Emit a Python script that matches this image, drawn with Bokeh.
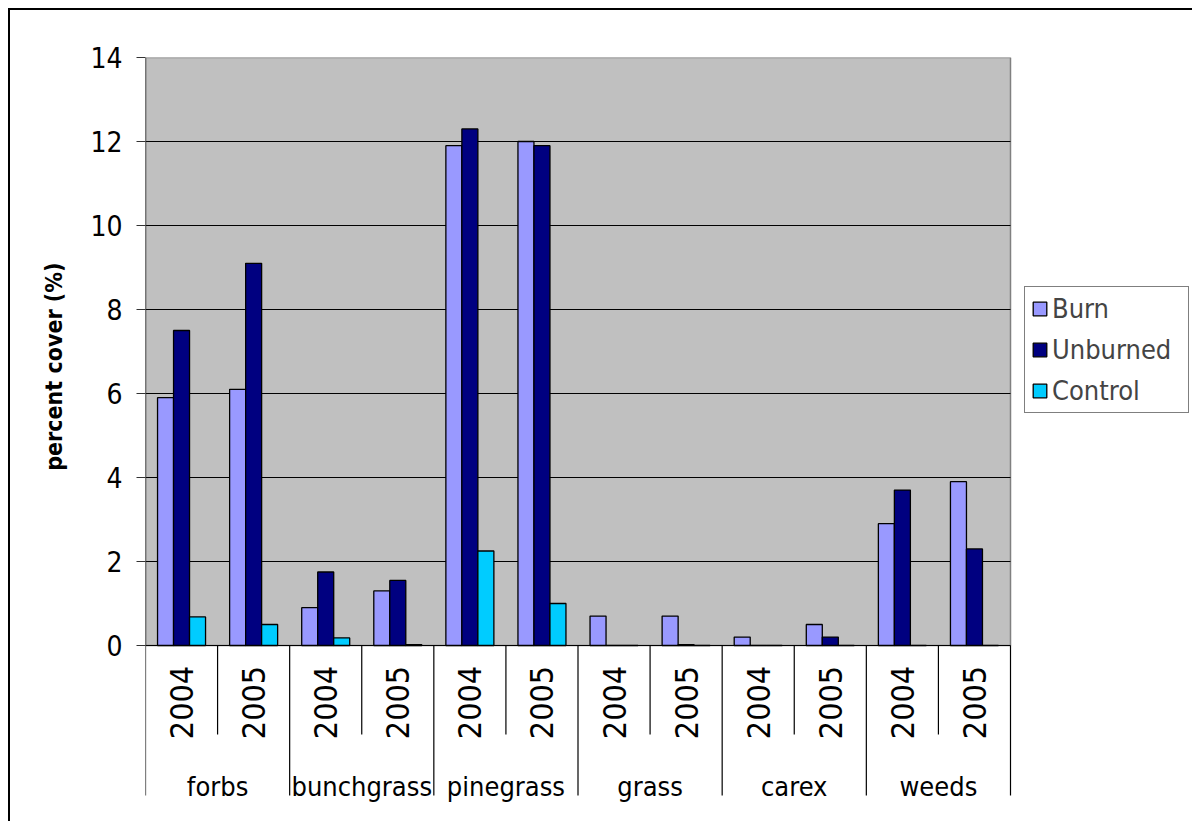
import math
from bokeh.plotting import figure
from bokeh.models import (Range1d, FixedTicker, Legend, LegendItem,
                          ColumnDataSource, Title)
from bokeh.core.properties import value
from bokeh.embed import file_html
from bokeh.resources import INLINE

# ---------------- data ----------------
groups = ["forbs", "bunchgrass", "pinegrass", "grass", "carex", "weeds"]
years = ["2004", "2005"]
burn = [5.9, 6.1, 0.9, 1.3, 11.9, 12.0, 0.7, 0.7, 0.2, 0.5, 2.9, 3.9]
unburned = [7.5, 9.1, 1.75, 1.55, 12.3, 11.9, 0.0, 0.02, 0.0, 0.2, 3.7, 2.3]
control = [0.68, 0.5, 0.18, 0.02, 2.25, 1.0, 0.0, 0.0, 0.0, 0.0, 0.0, 0.0]
series_names = ["Burn", "Unburned", "Control"]
series_colors = ["#9999FF", "#000080", "#00CCFF"]
y_ticks = [0, 2, 4, 6, 8, 10, 12, 14]
y_title = "percent cover (%)"

FONT = "'DejaVu Sans Condensed', 'DejaVu Sans', sans-serif"

# ---------------- layout constants (pixels) ----------------
W, H = 1184, 813
left_px, top_px = 135, 47
plot_w_px = 865.0            # width of the gray plot area
frame_w_px = W - left_px     # frame runs to the right edge (legend lives inside)
frame_h_px = H - top_px      # frame runs to the bottom edge (category labels inside)
px_per_unit = 42.0
sep_long_px = 150.0
sep_short_px = 89.0

cats = [(g, y) for g in groups for y in years]
n = len(cats)
x_end = n * frame_w_px / plot_w_px
y_max = y_ticks[-1]
y_bottom = y_max - frame_h_px / px_per_unit

p = figure(width=W, height=H, x_range=Range1d(0, x_end), y_range=Range1d(y_bottom, y_max),
           output_backend="svg", toolbar_location=None, x_axis_location=None,
           min_border_left=left_px, min_border_top=top_px, min_border_bottom=0,
           min_border_right=0,
           styles={"margin-left": "8px", "margin-top": "8px",
                   "border-top": "2px solid #000", "border-left": "2px solid #000"})
p.outline_line_color = None
p.background_fill_color = "white"
p.border_fill_color = "white"
p.grid.visible = False

# plot area (gray)
p.quad(left=[0], right=[n], bottom=[0], top=[y_max],
       fill_color="#C0C0C0", line_color="#808080", line_width=1.5)

# gridlines + category axis line
gl = y_ticks[:-1]
p.segment(x0=[0] * len(gl), x1=[n] * len(gl), y0=gl, y1=gl, line_color="black", line_width=1.2)

# y axis (line drawn below as the first separator)
ax = p.yaxis[0]
ax.ticker = FixedTicker(ticks=y_ticks)
ax.major_label_text_font = FONT
ax.major_label_text_font_size = "28px"
ax.major_label_text_color = "black"
ax.major_label_standoff = 14
ax.major_tick_out = 9
ax.major_tick_in = 0
ax.minor_tick_out = 0
ax.minor_tick_in = 0
ax.axis_line_color = None
ax.major_tick_line_color = "#333333"

# bars
xc = [i + 0.5 for i in range(n)]
src = ColumnDataSource(dict(x=xc, burn=burn, unburned=unburned, control=control))
bw = 0.222
cols = ["burn", "unburned", "control"]
renderers = []
for i, (c, name, color) in enumerate(zip(cols, series_names, series_colors)):
    xs = [v + (i - 1) * bw for v in xc]
    r = p.vbar(x=xs, top=src.data[c], width=bw,
               fill_color=color, line_color="black", line_width=1.3)
    renderers.append(r)

# value axis line
sep_bottom = -sep_long_px / px_per_unit
p.segment(x0=[0], x1=[0], y0=[y_max], y1=[0], line_color="#333333", line_width=1.3)

# category separators
long_x = [i for i in range(0, n + 1, len(years))]
short_x = [i for i in range(0, n + 1) if i % len(years) != 0]
p.segment(x0=long_x, x1=long_x, y0=[0] * len(long_x), y1=[sep_bottom] * len(long_x),
          line_color="black", line_width=1.2)
short_bottom = -sep_short_px / px_per_unit
p.segment(x0=short_x, x1=short_x, y0=[0] * len(short_x), y1=[short_bottom] * len(short_x),
          line_color="black", line_width=1.2)

# year labels
p.text(x=xc, y=[-57.0 / px_per_unit] * n, text=[c[1] for c in cats], angle=math.pi / 2,
       text_align="center", text_baseline="middle", text_font=value(FONT),
       text_font_size="32px", text_color="black")

# group labels
gx = [len(years) * gi + len(years) / 2 for gi in range(len(groups))]
p.text(x=gx, y=[-141.0 / px_per_unit] * len(groups), text=groups,
       text_align="center", text_baseline="alphabetic", text_font=value(FONT),
       text_font_size="27px", text_color="black")

# y title
p.add_layout(Title(text=y_title, align="right", offset=205,
                   text_font=FONT, text_font_size="23px", text_font_style="bold",
                   text_color="black", standoff=42), "left")

# legend (inside the frame, right of the plot area)
legend = Legend(items=[LegendItem(label=nm, renderers=[r]) for nm, r in zip(series_names, renderers)],
                location=(879, 410), margin=0, padding=6, spacing=10,
                glyph_width=17, glyph_height=17, label_height=31, label_standoff=4,
                label_width=130,
                label_text_font=FONT, label_text_font_size="27px",
                border_line_color="black", border_line_width=1.2,
                background_fill_color="white", background_fill_alpha=1)
p.add_layout(legend)

open("out.html", "w").write(file_html(p, INLINE))
